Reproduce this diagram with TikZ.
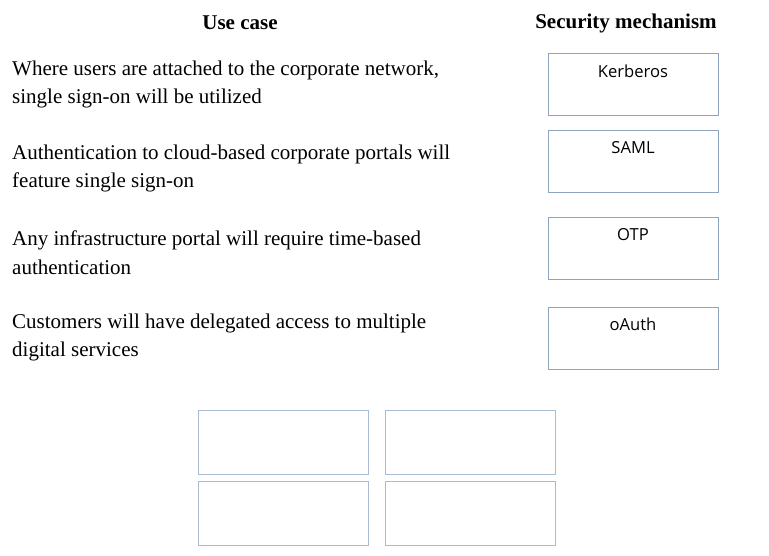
\documentclass[tikz,border=0pt]{standalone}
\usepackage{fontspec}
\setmainfont{Liberation Serif}
\newfontfamily\boxfont{Open Sans}
\usepackage{xcolor}
\usetikzlibrary{positioning}

\definecolor{boxline}{HTML}{8EA4BF}
\definecolor{slotline}{HTML}{A9BCD1}

\begin{document}
\begin{tikzpicture}[x=1pt,y=-1pt,
  mechbox/.style={draw=boxline,line width=1pt,minimum width=170pt,minimum height=62pt,inner sep=0pt},
  slotbox/.style={draw=slotline,line width=1pt,minimum width=170pt,minimum height=64pt,inner sep=0pt},
  mechlabel/.style={inner sep=0pt,font=\boxfont\fontsize{16.6}{19}\selectfont},
  usecase/.style={anchor=west,align=left,inner sep=0pt,font=\fontsize{21}{28.5}\selectfont},
  heading/.style={font=\bfseries\fontsize{21}{24}\selectfont}]
\useasboundingbox (0,0) rectangle (769,556);

% Headings
\node[heading] (usehead) at (240,23) {Use case};
\node[heading] (sechead) at (626,23) {Security mechanism};

% Use cases
\node[usecase] (case1) at (12,84.5) {Where users are attached to the corporate network,\\single sign-on will be utilized};
\node[usecase] (case2) at (12,168.5) {Authentication to cloud-based corporate portals will\\feature single sign-on};
\node[usecase] (case3) at (12,252.5) {Any infrastructure portal will require time-based\\authentication};
\node[usecase] (case4) at (12,337.5) {Customers will have delegated access to multiple\\digital services};

% Security mechanisms
\node[mechbox] (kerberos) at (633,85) {};
\node[mechbox] (saml) at (633,162) {};
\node[mechbox] (otp) at (633,248.5) {};
\node[mechbox] (oauth) at (633,338.5) {};
\node[mechlabel,below=11pt of kerberos.north] {Kerberos};
\node[mechlabel,below=11pt of saml.north] {SAML};
\node[mechlabel,below=11pt of otp.north] {OTP};
\node[mechlabel,below=11pt of oauth.north] {oAuth};

% Answer area
\node[slotbox] (slot1) at (283,442.5) {};
\node[slotbox] (slot2) at (470.5,442) {};
\node[slotbox] (slot3) at (283,513) {};
\node[slotbox] (slot4) at (470.5,513) {};
\end{tikzpicture}
\end{document}
